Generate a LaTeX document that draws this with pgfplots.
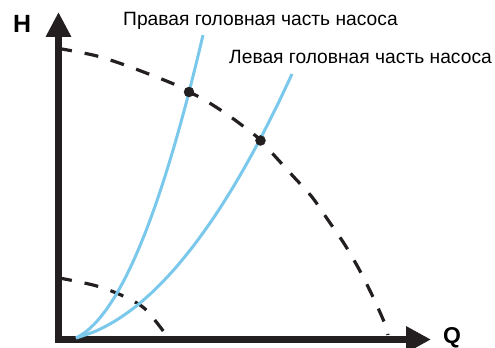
\documentclass[border=0pt]{standalone}
\usepackage{pgfplots}
\pgfplotsset{compat=1.18}
\usetikzlibrary{arrows.meta}
\usepackage{fontspec}
\setmainfont{Liberation Sans}
\definecolor{cblue}{HTML}{7AC8EB}
\definecolor{cblack}{HTML}{231F20}
\begin{document}
\begin{tikzpicture}
\begin{axis}[
  at={(0,0)}, anchor=south west,
  width=495bp, height=348bp, scale only axis,
  xmin=0, xmax=495, ymin=0, ymax=348,
  hide axis, clip=false,
]
% axes
\addplot[cblack, line width=6.5bp, line join=miter, {Triangle[length=25bp,width=25bp]}-{Triangle[length=25bp,width=24bp]}]
  coordinates {(431,8.5) (58.5,8.5) (58.5,336)};
% big dashed
\addplot[cblack, line width=3.2bp, dash pattern=on 14bp off 13bp, dash phase=4bp, smooth]
  coordinates {(62,299) (95,292.5) (122,284) (150,273.5) (176,263) (189,256) (203,249) (228,233) (252,215) (261,207) (292,173) (312,151) (328,128) (345,103) (360,77) (373,51) (385,24) (388,13)};
% small dashed
\addplot[cblack, line width=3.2bp, dash pattern=on 14bp off 13bp, dash phase=4bp, smooth]
  coordinates {(62,69.5) (95,62.5) (121,53) (144,40) (164,16) (167,10)};
% right blue
\addplot[cblue, line width=3bp, smooth]
  coordinates {(76,10) (86,16.3) (96,25.7) (106,38) (116,53.3) (126,71.6) (136,92.9) (146,117.2) (156,144.5) (166,174.8) (176,208.1) (186,244.4) (196,283.7) (203,312.9)};
% left blue
\addplot[cblue, line width=3bp, smooth]
  coordinates {(76,10) (96,17) (116,27.6) (136,41.7) (156,59.4) (176,80.7) (196,105.5) (216,133.8) (236,165.7) (256,201.2) (276,240.2) (292,274)};
% dots
\addplot[only marks, mark=*, mark size=5bp, cblack] coordinates {(189,256) (260.5,207.5)};
% labels
\node[anchor=base west, inner sep=0pt, font=\fontsize{19.3}{21}\selectfont] at (axis cs:123,322) {Правая головная часть насоса};
\node[anchor=base west, inner sep=0pt, font=\fontsize{19.3}{21}\selectfont] at (axis cs:229,284) {Левая головная часть насоса};
\node[anchor=base west, inner sep=0pt, font=\fontsize{25}{27}\selectfont\bfseries] at (axis cs:13,315) {H};
\node[anchor=base west, inner sep=0pt, font=\fontsize{23}{25}\selectfont\bfseries] at (axis cs:443,5) {Q};
\end{axis}
\pgfresetboundingbox
\useasboundingbox (0,0) rectangle (495bp,348bp);
\end{tikzpicture}
\end{document}
